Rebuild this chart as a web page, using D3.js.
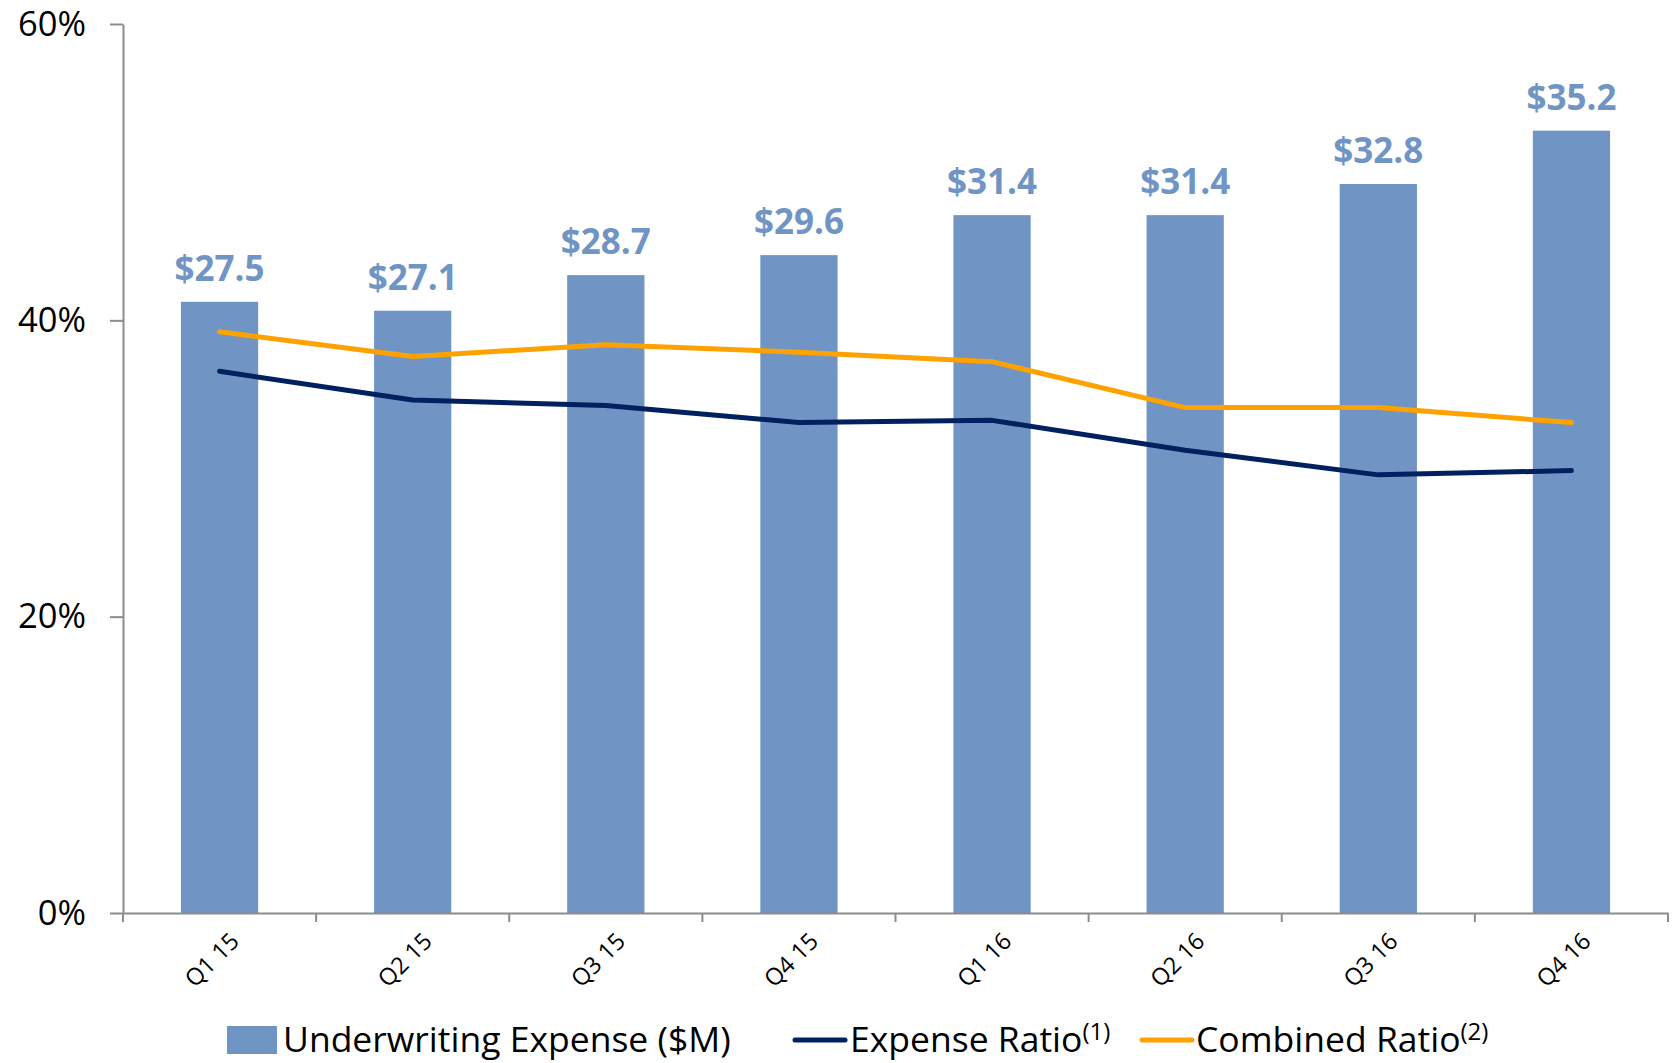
<!DOCTYPE html>
<html>
<head>
<meta charset="utf-8">
<script src="https://cdn.jsdelivr.net/npm/d3@7"></script>
<style>
  body { margin: 0; background: #fff; }
  svg { display: block; }
</style>
</head>
<body>
<div id="chart"></div>
<script>
"use strict";

// Data
const quarters = ["Q1 15", "Q2 15", "Q3 15", "Q4 15", "Q1 16", "Q2 16", "Q3 16", "Q4 16"];
const underwritingExpense = [27.5, 27.1, 28.7, 29.6, 31.4, 31.4, 32.8, 35.2];
const expenseRatio = [0.3656, 0.3462, 0.3425, 0.3310, 0.3325, 0.3123, 0.2957, 0.2986];
const combinedRatio = [0.3923, 0.3756, 0.3836, 0.3785, 0.3721, 0.3411, 0.3411, 0.3310];
const pctTicks = [0, 0.2, 0.4, 0.6];

const W = 1673, H = 1063;
const barColor = "#7095c4";
const navy = "#00205f";
const orange = "#ffa200";
const axisColor = "#8c8c8c";
const font = "'Open Sans', sans-serif";

const svg = d3.select("#chart").append("svg")
  .attr("width", W)
  .attr("height", H);

svg.append("rect").attr("width", W).attr("height", H).attr("fill", "#fff");

// Scales
var x = d3.scaleBand()
  .domain(quarters)
  .range([123, 1668])
  .paddingInner(0.6)
  .paddingOuter(0.3);

var y = d3.scaleLinear().domain([0, 0.6]).range([913, 24]);
// bars sit on a hidden secondary axis
var y2 = d3.scaleLinear().domain([0, 40]).range([913, 24]);

var cx = function(d) { return x(d) + x.bandwidth() / 2; };

// Bars
svg.append("g").selectAll("rect")
  .data(quarters)
  .join("rect")
  .attr("x", d => x(d))
  .attr("y", (d, i) => y2(underwritingExpense[i]))
  .attr("width", x.bandwidth())
  .attr("height", (d, i) => y2(0) - y2(underwritingExpense[i]))
  .attr("fill", barColor);

// Bar labels
svg.append("g").selectAll("text")
  .data(quarters)
  .join("text")
  .attr("x", d => cx(d))
  .attr("y", (d, i) => y2(underwritingExpense[i]) - 21)
  .attr("text-anchor", "middle")
  .attr("font-family", font)
  .attr("font-weight", "bold")
  .attr("font-size", "35px")
  .attr("fill", barColor)
  .text((d, i) => "$" + underwritingExpense[i].toFixed(1));

// Y axis
var yAxis = svg.append("g")
  .attr("transform", "translate(123,0)")
  .call(d3.axisLeft(y).tickValues(pctTicks).tickFormat(d3.format(".0%"))
    .tickSize(13).tickPadding(24).tickSizeOuter(0));
yAxis.select(".domain").attr("stroke", axisColor).attr("stroke-width", 2);
yAxis.selectAll(".tick line").attr("stroke", axisColor).attr("stroke-width", 2);
yAxis.selectAll(".tick text")
  .attr("font-family", font)
  .attr("font-size", "34.5px")
  .attr("fill", "#000");

// X axis
var xAxis = svg.append("g")
  .attr("transform", "translate(0,913)")
  .call(d3.axisBottom(x).tickSize(0).tickSizeOuter(0).tickPadding(0));
xAxis.select(".domain").attr("stroke", axisColor).attr("stroke-width", 2);
xAxis.selectAll(".tick text")
  .attr("font-family", font)
  .attr("font-size", "23.5px")
  .attr("fill", "#000")
  .attr("text-anchor", "end")
  .attr("transform", "translate(15,24) rotate(-45)")
  .attr("dy", "0.35em");

// category boundary ticks
var step = x.step();
var bounds = d3.range(quarters.length + 1).map(i => x(quarters[0]) - x.step() * x.paddingOuter() + i * step);
svg.append("g").selectAll("line")
  .data(bounds)
  .join("line")
  .attr("x1", d => d).attr("x2", d => d)
  .attr("y1", 913).attr("y2", 922)
  .attr("stroke", axisColor)
  .attr("stroke-width", 2);

// Lines
var line = d3.line()
  .x(d => cx(d.q))
  .y(d => y(d.v));

function lineData(vals) {
  return quarters.map((q, i) => ({ q: q, v: vals[i] }));
}

svg.append("path")
  .datum(lineData(combinedRatio))
  .attr("d", line)
  .attr("fill", "none")
  .attr("stroke", orange)
  .attr("stroke-width", 5)
  .attr("stroke-linecap", "round")
  .attr("stroke-linejoin", "round");

svg.append("path")
  .datum(lineData(expenseRatio))
  .attr("d", line)
  .attr("fill", "none")
  .attr("stroke", navy)
  .attr("stroke-width", 5)
  .attr("stroke-linecap", "round")
  .attr("stroke-linejoin", "round");

// Legend
var legY = 1040;
var leg = svg.append("g")
  .attr("font-family", font)
  .attr("font-size", "35.5px")
  .attr("fill", "#000");

leg.append("rect")
  .attr("x", 227).attr("y", legY - 14)
  .attr("width", 50).attr("height", 28)
  .attr("fill", barColor);
leg.append("text")
  .attr("x", 283).attr("y", legY).attr("dy", "0.35em")
  .text("Underwriting Expense ($M)");

leg.append("line")
  .attr("x1", 795).attr("x2", 845)
  .attr("y1", legY).attr("y2", legY)
  .attr("stroke", navy).attr("stroke-width", 5).attr("stroke-linecap", "round");
var t2 = leg.append("text")
  .attr("x", 850).attr("y", legY).attr("dy", "0.35em")
  .text("Expense Ratio");
t2.append("tspan").attr("dy", "-0.5em").attr("font-size", "24px").text("(1)");

leg.append("line")
  .attr("x1", 1142).attr("x2", 1192)
  .attr("y1", legY).attr("y2", legY)
  .attr("stroke", orange).attr("stroke-width", 5).attr("stroke-linecap", "round");
var t3 = leg.append("text")
  .attr("x", 1196).attr("y", legY).attr("dy", "0.35em")
  .text("Combined Ratio");
t3.append("tspan").attr("dy", "-0.5em").attr("font-size", "24px").text("(2)");
</script>
</body>
</html>
